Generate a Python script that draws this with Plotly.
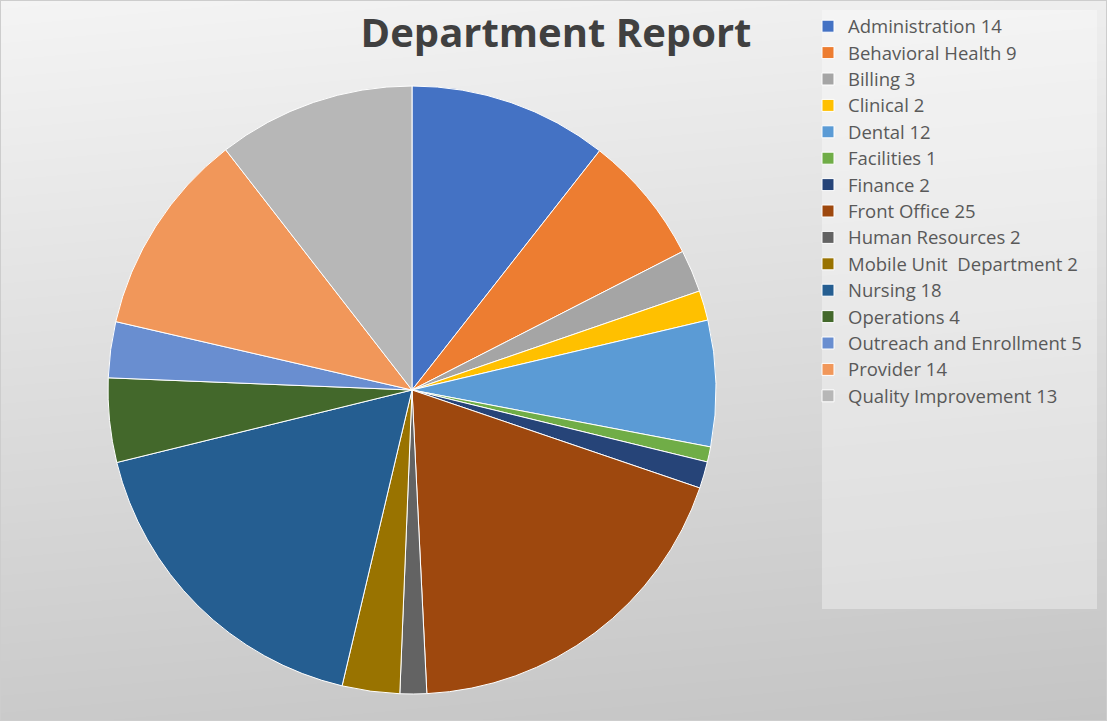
import plotly.graph_objects as go

departments = ["Administration", "Behavioral Health", "Billing", "Clinical", "Dental",
               "Facilities", "Finance", "Front Office", "Human Resources",
               "Mobile Unit  Department", "Nursing", "Operations",
               "Outreach and Enrollment", "Provider", "Quality Improvement"]
# numbers printed in the legend labels
legend_counts = [14, 9, 3, 2, 12, 1, 2, 25, 2, 2, 18, 4, 5, 14, 13]
# slice sizes (estimated shares, degrees of arc)
slice_values = [38.1, 24.8, 8.1, 5.7, 24.1, 2.9, 5.1, 68.4, 5.1, 11.0,
                62.9, 16.1, 10.7, 39.2, 37.8]
colors = ["#4472C4", "#ED7D31", "#A5A5A5", "#FFC000", "#5B9BD5",
          "#70AD47", "#264478", "#9E480E", "#636363", "#997300",
          "#255E91", "#43682B", "#698ED0", "#F1975A", "#B7B7B7"]

labels = [f"<span style='font-size:18.5px'>{d.replace('  ', '\u00a0 ')} {c}</span>"
          for d, c in zip(departments, legend_counts)]

W, H = 1107, 721
cx, cy, r = 412, 390, 304

fig = go.Figure()

# background gradient
fig.add_trace(go.Heatmap(
    x=[0, 1], y=[0, 1], z=[[202, 196], [244, 238]],
    zmin=190, zmax=250, zsmooth="best",
    colorscale=[[0, "rgb(190,190,190)"], [1, "rgb(250,250,250)"]],
    showscale=False, hoverinfo="skip", xaxis="x", yaxis="y"))

fig.add_trace(go.Pie(
    labels=labels, values=slice_values, sort=False, direction="clockwise", rotation=0,
    marker=dict(colors=colors, line=dict(color="white", width=1)),
    textinfo="none", hoverinfo="label",
    domain=dict(x=[(cx - r) / W, (cx + r) / W], y=[(H - cy - r) / H, (H - cy + r) / H]),
))

fig.update_layout(
    width=W, height=H,
    margin=dict(l=0, r=0, t=0, b=0),
    paper_bgcolor="#e0e0e0",
    plot_bgcolor="rgba(0,0,0,0)",
    xaxis=dict(domain=[0, 1], range=[0, 1], visible=False, fixedrange=True),
    yaxis=dict(domain=[0, 1], range=[0, 1], visible=False, fixedrange=True),
    title=dict(text="<b>Department Report</b>", x=556 / W, xanchor="center",
               y=1 - 33 / H, yanchor="middle",
               font=dict(family="Open Sans", size=40, color="#404040")),
    legend=dict(x=808 / W, xanchor="left", y=1 - 8 / H, yanchor="top",
                bgcolor="rgba(0,0,0,0)",
                font=dict(family="Open Sans", size=18, color="#595959"),
                itemclick=False, itemdoubleclick=False),
    shapes=[
        dict(type="rect", xref="paper", yref="paper",
             x0=822 / W, x1=1097 / W, y0=1 - 609 / H, y1=1 - 10 / H,
             fillcolor="rgba(255,255,255,0.35)", line=dict(width=0), layer="above"),
        dict(type="rect", xref="paper", yref="paper", x0=0, x1=1, y0=0, y1=1,
             line=dict(color="rgb(205,205,205)", width=2), layer="above"),
    ],
)

fig.write_html("out.html")
